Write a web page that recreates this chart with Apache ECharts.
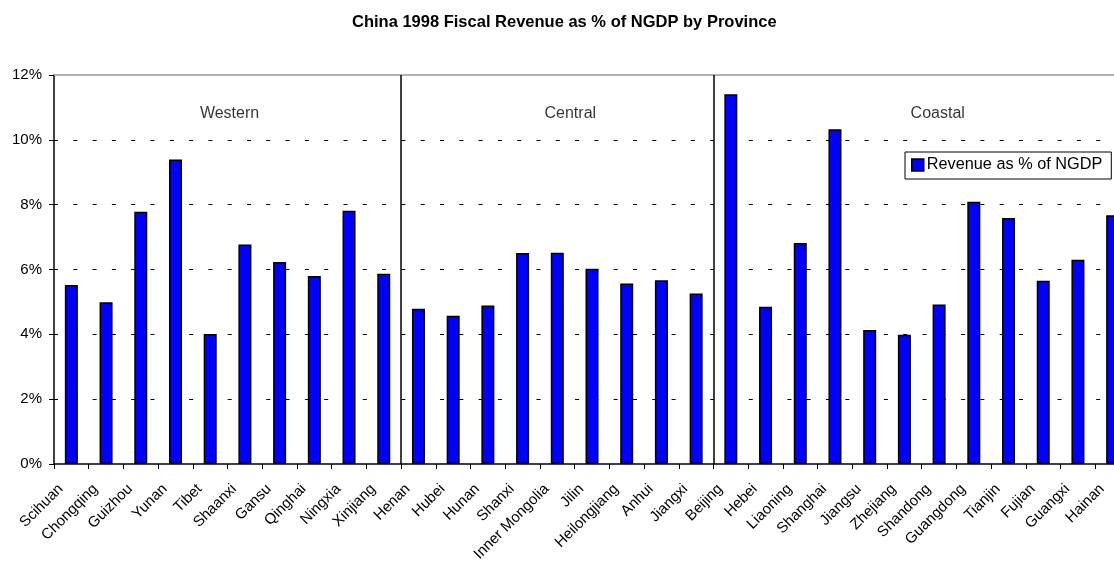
<!DOCTYPE html>
<html>
<head>
<meta charset="utf-8">
<title>China 1998 Fiscal Revenue as % of NGDP by Province</title>
<script src="https://cdn.jsdelivr.net/npm/echarts@6/dist/echarts.min.js"></script>
<style>
  html, body { margin: 0; padding: 0; background: #fff; }
  #chart { width: 1114px; height: 566px; }
</style>
</head>
<body>
<div id="chart"></div>
<script>
// Provinces, ordered by region (Western, Central, Coastal)
const provinces = [
  'Scihuan', 'Chongqing', 'Guizhou', 'Yunan', 'Tibet', 'Shaanxi', 'Gansu', 'Qinghai', 'Ningxia', 'Xinjiang',
  'Henan', 'Hubei', 'Hunan', 'Shanxi', 'Inner Mongolia', 'Jilin', 'Heilongjiang', 'Anhui', 'Jiangxi',
  'Beijing', 'Hebei', 'Liaoning', 'Shanghai', 'Jiangsu', 'Zhejiang', 'Shandong', 'Guangdong', 'Tianjin', 'Fujian', 'Guangxi', 'Hainan'
];

// Fiscal revenue as % of NGDP, 1998
const revenuePct = [
  5.52, 4.99, 7.78, 9.39, 4.01, 6.77, 6.23, 5.80, 7.81, 5.87,
  4.79, 4.57, 4.89, 6.51, 6.52, 6.02, 5.57, 5.67, 5.26,
  11.41, 4.85, 6.82, 10.33, 4.13, 3.99, 4.92, 8.09, 7.59, 5.65, 6.30, 7.67
];

// Region groups: name and number of provinces in each
const regionNames = ['Western', 'Central', 'Coastal'];
const regionSizes = [10, 9, 12];

const yTicks = [0, 2, 4, 6, 8, 10, 12];
const seriesName = 'Revenue as % of NGDP';

// small horizontal nudges (px) for the region captions
const regionCaptionNudge = [2, 13, 16];

// Region boundaries and caption anchors on a 0..N scale aligned with the categories
const boundaries = [];
const regionLabelData = [];
let start = 0;
regionSizes.forEach((n, i) => {
  if (i > 0) boundaries.push(start);
  regionLabelData.push({
    value: [start + n / 2, 10.8],
    name: regionNames[i],
    label: { offset: [regionCaptionNudge[i], 0] }
  });
  start += n;
});

const font = '"Liberation Sans", Arial, sans-serif';

const chart = echarts.init(document.getElementById('chart'), null, { renderer: 'canvas' });
chart.setOption({
  animation: false,
  backgroundColor: '#ffffff',
  textStyle: { fontFamily: font },
  title: {
    text: 'China 1998 Fiscal Revenue as % of NGDP by Province',
    left: 347,
    top: 9,
    textStyle: { fontFamily: font, fontSize: 16.5, fontWeight: 'bold', color: '#000' }
  },
  legend: {
    data: [seriesName],
    left: 905,
    top: 152,
    orient: 'horizontal',
    borderColor: '#000',
    borderWidth: 1,
    padding: [5, 9, 6, 6],
    backgroundColor: '#fff',
    icon: 'rect',
    itemWidth: 12,
    itemHeight: 12,
    itemGap: 3,
    itemStyle: { color: '#0000ff', borderColor: '#000', borderWidth: 1.5 },
    textStyle: { fontFamily: font, fontSize: 16.3, color: '#000', padding: [0, 0, 0, -2] }
  },
  // the plot runs slightly past the right edge of the canvas
  grid: { left: 54, top: 75, right: -16, height: 389, containLabel: false, outerBoundsMode: 'none' },
  xAxis: [
    {
      type: 'category',
      data: provinces,
      position: 'bottom',
      boundaryGap: true,
      axisLine: { show: true, lineStyle: { color: '#000', width: 1.5 } },
      axisTick: { show: true, length: 5, lineStyle: { color: '#000' }, interval: 0 },
      axisLabel: {
        interval: 0, rotate: 45, margin: 12,
        padding: [0, 15, 0, 0],
        fontFamily: font, fontSize: 15, color: '#000'
      },
      splitLine: { show: false }
    },
    {
      type: 'value',
      min: 0,
      max: provinces.length,
      position: 'top',
      axisLine: { show: true, onZero: false, lineStyle: { color: '#999', width: 1.5 } },
      axisTick: { show: false },
      axisLabel: { show: false },
      splitLine: { show: false }
    }
  ],
  yAxis: {
    type: 'value',
    min: yTicks[0],
    max: yTicks[yTicks.length - 1],
    interval: 2,
    axisLine: { show: true, lineStyle: { color: '#000', width: 1.5 } },
    axisTick: { show: true, length: 5, lineStyle: { color: '#000' } },
    axisLabel: {
      formatter: '{value}%', margin: 12,
      padding: [4, 0, 0, 0],
      fontFamily: font, fontSize: 15, color: '#000'
    },
    splitLine: {
      show: true,
      showMinLine: false,
      showMaxLine: false,
      lineStyle: { color: '#000', width: 1, type: [4, 15.3] }
    }
  },
  series: [
    {
      name: seriesName,
      type: 'bar',
      xAxisIndex: 0,
      data: revenuePct,
      barWidth: 13,
      itemStyle: { color: '#0000ff', borderColor: '#000', borderWidth: 1.5 },
      z: 3
    },
    {
      name: 'regions',
      type: 'scatter',
      xAxisIndex: 1,
      symbolSize: 0,
      data: regionLabelData,
      label: {
        show: true,
        position: 'inside',
        formatter: p => p.name,
        fontFamily: font, fontSize: 16, color: '#000'
      },
      // vertical dividers between the regions
      markLine: {
        silent: true,
        symbol: ['none', 'none'],
        label: { show: false },
        lineStyle: { color: '#000', width: 1.5, type: 'solid' },
        data: boundaries.map(b => ({ xAxis: b }))
      },
      z: 4
    }
  ]
});
</script>
</body>
</html>
